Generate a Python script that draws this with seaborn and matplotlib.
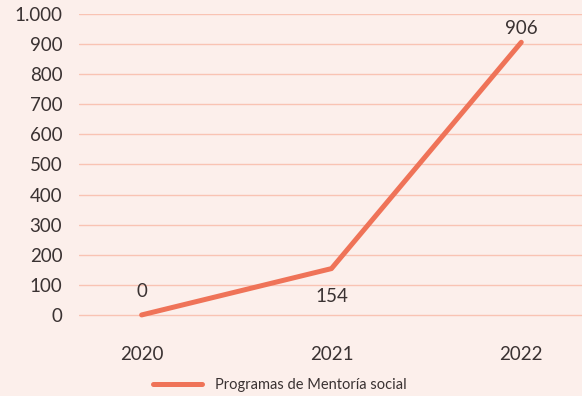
import pandas as pd
import matplotlib.pyplot as plt
import seaborn as sns
from matplotlib.ticker import FuncFormatter

# Data
years = ['2020', '2021', '2022']
programas = [0, 154, 906]
label_offsets = [17, -20, 10]  # above / below point, in points
series_name = 'Programas de Mentoría social'

bg = '#FCEFEB'
grid_color = '#F9C3B3'
line_color = '#EF7358'
text_color = '#3A3232'

sns.set_style('white')
plt.rcParams['font.family'] = ['Lato', 'DejaVu Sans']

df = pd.DataFrame({'year': years, 'value': programas})

fig = plt.figure(figsize=(5.82, 3.96), dpi=100, facecolor=bg)
ax = fig.add_axes([79 / 582, 1 - 333 / 396, 1 - 79 / 582, (333 - 14) / 396])
ax.set_facecolor(bg)

sns.lineplot(data=df, x='year', y='value', ax=ax, color=line_color,
             linewidth=3.6, solid_capstyle='round', label=series_name,
             legend=False)

for i, (v, off) in enumerate(zip(programas, label_offsets)):
    ax.annotate(f'{v}', (i, v), xytext=(0, off), textcoords='offset points',
                ha='center', va='center', fontsize=13.5, color=text_color)

ax.set_ylim(-60, 1000)
ax.set_xlim(-0.33, 2.32)
ax.set_yticks(range(0, 1001, 100))
ax.yaxis.set_major_formatter(FuncFormatter(lambda v, p: f'{int(v):,}'.replace(',', '.')))
ax.grid(axis='y', color=grid_color, linewidth=1)
ax.grid(axis='x', visible=False)
for s in ax.spines.values():
    s.set_visible(False)
ax.tick_params(axis='y', length=0, pad=12, labelsize=13.5, labelcolor=text_color)
ax.tick_params(axis='x', length=0, pad=9, labelsize=13.5, labelcolor=text_color)
ax.set_xlabel('')
ax.set_ylabel('')

handles, labels = ax.get_legend_handles_labels()
fig.legend(handles, labels, loc='center', bbox_to_anchor=(0.481, 1 - 385 / 396),
           frameon=False, fontsize=10.5, handlelength=3.35, handletextpad=0.95,
           labelcolor=text_color)

fig.savefig('out.png', dpi=100, facecolor=bg)
